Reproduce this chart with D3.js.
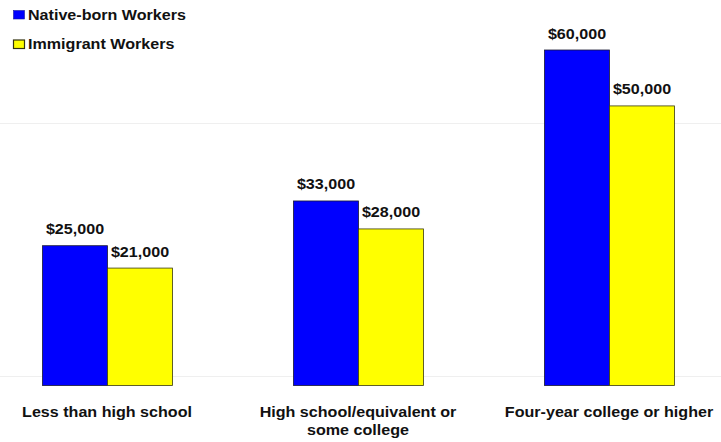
<!DOCTYPE html>
<html>
<head>
<meta charset="utf-8">
<script src="https://cdn.jsdelivr.net/npm/d3@7/dist/d3.min.js"></script>
<style>
  html, body { margin: 0; padding: 0; background: #fff; }
  svg { display: block; }
  text { font-family: "Liberation Sans", Arial, sans-serif; font-weight: bold; fill: #111; }
</style>
</head>
<body>
<svg id="chart" width="721" height="442"></svg>
<script>
// Median earnings by education level
const categories = [
  ["Less than high school"],
  ["High school/equivalent or", "some college"],
  ["Four-year college or higher"]
];
const seriesNames = ["Native-born Workers", "Immigrant Workers"];
const nativeBorn = [25000, 33000, 60000];
const immigrant = [21000, 28000, 50000];
const seriesColors = ["#0000ff", "#ffff00"];
const seriesStroke = ["#1a1a33", "#3a3a10"];
const faintRules = [47000, 1700]; // light background rules

const W = 721, H = 442;
const svg = d3.select("#chart");
const stretch = 1.15; // wide lettering

const groupKeys = d3.range(categories.length);
const x0 = d3.scaleBand()
  .domain(groupKeys)
  .range([-18.5, 734.5])
  .paddingInner(0.482)
  .paddingOuter(0.241);
const x1 = d3.scaleBand()
  .domain(d3.range(seriesNames.length))
  .range([0, x0.bandwidth()])
  .padding(0);
const y = d3.scaleLinear().domain([0, 60000]).range([385.5, 50]);

// faint background rules
svg.append("g").selectAll("line")
  .data(faintRules)
  .join("line")
  .attr("x1", 0).attr("x2", W)
  .attr("y1", d => Math.round(y(d)) + 0.5)
  .attr("y2", d => Math.round(y(d)) + 0.5)
  .attr("stroke", "#efefef")
  .attr("stroke-width", 1);

function stretchedText(sel, xPos, yPos, str, anchor) {
  return sel.append("text")
    .attr("transform", `translate(${xPos},${yPos}) scale(${stretch},1)`)
    .attr("text-anchor", anchor)
    .attr("font-size", 14)
    .text(str);
}

const rows = groupKeys.map(i => [nativeBorn[i], immigrant[i]]);

const groups = svg.append("g").selectAll("g")
  .data(rows)
  .join("g")
  .attr("transform", (d, i) => `translate(${x0(i)},0)`);

groups.selectAll("rect")
  .data(d => d.map((v, s) => ({ v, s })))
  .join("rect")
  .attr("x", d => x1(d.s) + 0.5)
  .attr("y", d => y(d.v))
  .attr("width", x1.bandwidth())
  .attr("height", d => y(0) - y(d.v))
  .attr("fill", d => seriesColors[d.s])
  .attr("stroke", d => seriesStroke[d.s])
  .attr("stroke-width", 0.8);

groups.each(function(d) {
  const g = d3.select(this);
  d.forEach((v, s) => {
    stretchedText(g, x1(s) + x1.bandwidth() / 2 + 0.5, y(v) - 11.5,
      "$" + d3.format(",")(v), "middle");
  });
});

// category labels
const labelG = svg.append("g");
categories.forEach((lines, i) => {
  lines.forEach((ln, j) => {
    stretchedText(labelG, x0(i) + x0.bandwidth() / 2, 417 + j * 17.5, ln, "middle");
  });
});

// legend
const legend = svg.append("g");
seriesNames.forEach((name, s) => {
  const ly = 10 + s * 29.5;
  legend.append("rect")
    .attr("x", 13.5).attr("y", ly + 0.5)
    .attr("width", 11).attr("height", 8.5)
    .attr("fill", seriesColors[s])
    .attr("stroke", s === 0 ? "#1a1a99" : "#333310")
    .attr("stroke-width", s === 0 ? 0.6 : 1.2);
  stretchedText(legend, 28, ly + 9.5, name, "start");
});
</script>
</body>
</html>
